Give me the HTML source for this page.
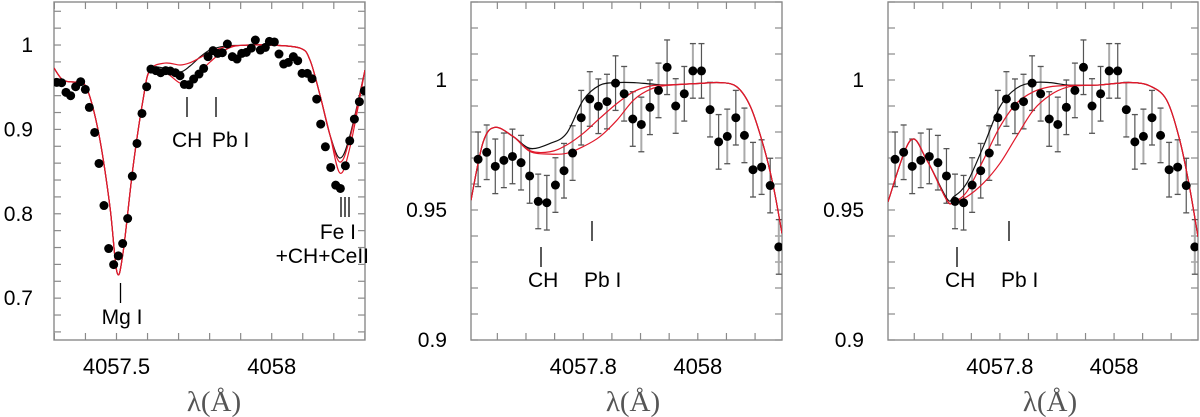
<!DOCTYPE html>
<html><head><meta charset="utf-8"><style>
html,body{margin:0;padding:0;background:#fff;}
svg{display:block;font-family:"Liberation Sans",sans-serif;}
</style></head><body>
<svg id="fig" width="1200" height="417" viewBox="0 0 1200 417" xmlns="http://www.w3.org/2000/svg"></svg>
<script>
// ---------- Panel 1 data ----------
const p1ObsX = [4057.3072,4057.3233,4057.3373,4057.3523,4057.3684,4057.3846,4057.3996,4057.4125,4057.4297,4057.4436,4057.4597,4057.4748,4057.4909,4057.5059,4057.5199,4057.5360,4057.5510,4057.5660,4057.5821,4057.5972,4057.6111,4057.6272,4057.6423,4057.6584,4057.6734,4057.6895,4057.7046,4057.7185,4057.7336,4057.7486,4057.7658,4057.7808,4057.7948,4057.8109,4057.8259,4057.8410,4057.8571,4057.8732,4057.8882,4057.9033,4057.9183,4057.9344,4057.9473,4057.9634,4057.9795,4057.9924,4058.0085,4058.0235,4058.0386,4058.0536,4058.0697,4058.0837,4058.0977,4058.1148,4058.1299,4058.1449,4058.1578,4058.1729,4058.1900,4058.2061,4058.2212,4058.2373,4058.2513,4058.2663,4058.2824,4058.2985];
const p1ObsY = [0.9557,0.9553,0.9439,0.9399,0.9506,0.9565,0.9474,0.9261,0.8964,0.8596,0.8098,0.7588,0.7398,0.7501,0.7647,0.7944,0.8446,0.8833,0.9189,0.9506,0.9715,0.9696,0.9672,0.9696,0.9692,0.9672,0.9636,0.9533,0.9529,0.9597,0.9656,0.9723,0.9862,0.9933,0.9901,0.9909,1.0012,0.9862,0.9834,0.9901,0.9913,0.9964,1.0059,0.9941,0.9972,1.0043,1.0036,0.9893,0.9775,0.9794,0.9862,0.9814,0.9664,0.9664,0.9601,0.9359,0.9063,0.8794,0.8549,0.8339,0.8300,0.8569,0.8865,0.9122,0.9328,0.9458];
const p1ModX = [4057.2987,4057.3276,4057.3663,4057.3889,4057.4146,4057.4468,4057.4791,4057.5016,4057.5209,4057.5532,4057.5854,4057.6079,4057.6562,4057.7046,4057.7368,4057.7690,4057.8012,4057.8496,4057.8979,4057.9945,4058.0911,4058.1233,4058.1555,4058.1878,4058.2200,4058.2522,4058.3005];
const p1ModBlack = [0.9727,0.9585,0.9561,0.9573,0.9383,0.8873,0.8078,0.7307,0.7533,0.8553,0.9348,0.9703,0.9727,0.9680,0.9751,0.9858,0.9941,0.9988,0.9995,1.0,0.9964,0.9822,0.9407,0.8932,0.8660,0.8930,0.9703];
const p1ModRedA = [0.9727,0.9585,0.9561,0.9573,0.9383,0.8873,0.8078,0.7307,0.7533,0.8553,0.9348,0.9703,0.9786,0.9763,0.9790,0.9850,0.9917,0.9976,0.9995,1.0,0.9964,0.9822,0.9407,0.8932,0.8612,0.8900,0.9703];
const p1ModRedB = [0.9727,0.9585,0.9561,0.9573,0.9383,0.8873,0.8078,0.7307,0.7533,0.8553,0.9348,0.9703,0.9680,0.9549,0.9561,0.9680,0.9798,0.9941,0.9995,1.0,0.9964,0.9822,0.9407,0.8932,0.8482,0.8790,0.9703];
const p1YTicks = [0.7,0.8,0.9,1];
const p1XTicks = [4057.5,4058];

// ---------- Panels 2 & 3 observed data (same star) ----------
const zObsX = [4057.6164,4057.6314,4057.6464,4057.6614,4057.6764,4057.6914,4057.7064,4057.7214,4057.7364,4057.7514,4057.7664,4057.7814,4057.7964,4057.8114,4057.8264,4057.8414,4057.8564,4057.8714,4057.8864,4057.9014,4057.9164,4057.9314,4057.9464,4057.9614,4057.9764,4057.9914,4058.0064,4058.0214,4058.0364,4058.0514,4058.0664,4058.0814,4058.0964,4058.1114,4058.1264,4058.1414];
const zObsY = [0.9695,0.9722,0.9668,0.9691,0.9706,0.9682,0.9631,0.9533,0.9528,0.9596,0.9651,0.9719,0.9855,0.9927,0.9899,0.9917,0.9988,0.9947,0.9850,0.9829,0.9895,0.9960,1.0049,0.9900,0.9947,1.0035,1.0035,0.9886,0.9762,0.9783,0.9855,0.9787,0.9655,0.9665,0.9594,0.9358];
const zObsErr = [0.0105,0.0105,0.0105,0.0105,0.0105,0.0105,0.0105,0.0105,0.0105,0.0105,0.0105,0.0105,0.0105,0.0105,0.0105,0.0105,0.0105,0.0105,0.0105,0.0105,0.0105,0.0105,0.0105,0.0105,0.0105,0.0105,0.0105,0.0105,0.0105,0.0105,0.0105,0.0105,0.0105,0.0105,0.0105,0.0105];
const zYTicks = [0.9,0.95,1];
const zXTicks = [4057.8,4058];

// ---------- Panel 2 models ----------
const p2ModX = [4057.604,4057.625,4057.646,4057.678,4057.707,4057.742,4057.771,4057.800,4057.829,4057.859,4057.888,4057.917,4057.946,4058.004,4058.039,4058.068,4058.092,4058.115,4058.132,4058.147];
const p2ModBlack = [0.9538,0.9760,0.9818,0.9782,0.9737,0.9756,0.9795,0.9923,0.9980,0.9990,0.9990,0.9985,0.9981,0.9987,0.9990,0.9974,0.9897,0.9744,0.9590,0.9410];
const p2ModRedA  = [0.9538,0.9760,0.9818,0.9782,0.9728,0.9724,0.9750,0.9795,0.9853,0.9910,0.9955,0.9977,0.9981,0.9987,0.9990,0.9974,0.9897,0.9744,0.9590,0.9410];
const p2ModRedB  = [0.9538,0.9760,0.9818,0.9782,0.9725,0.9715,0.9718,0.9744,0.9782,0.9846,0.9923,0.9964,0.9979,0.9987,0.9990,0.9974,0.9897,0.9744,0.9590,0.9410];

// ---------- Panel 3 models ----------
const p3ModX = [4057.604,4057.643,4057.672,4057.707,4057.719,4057.742,4057.771,4057.800,4057.829,4057.859,4057.888,4057.917,4057.946,4057.975,4058.004,4058.033,4058.063,4058.092,4058.115,4058.132,4058.147];
const p3ModBlack = [0.9532,0.9767,0.9692,0.9545,0.9551,0.9603,0.9744,0.9897,0.9968,0.9990,0.9990,0.9981,0.9980,0.9981,0.9987,0.9990,0.9977,0.9923,0.9769,0.9590,0.9397];
const p3ModRedA  = [0.9532,0.9767,0.9692,0.9538,0.9532,0.9570,0.9692,0.9820,0.9910,0.9955,0.9974,0.9979,0.9980,0.9981,0.9987,0.9990,0.9977,0.9923,0.9769,0.9590,0.9397];
const p3ModRedB  = [0.9532,0.9767,0.9692,0.9538,0.9532,0.9551,0.9603,0.9679,0.9782,0.9885,0.9942,0.9972,0.9979,0.9981,0.9987,0.9990,0.9977,0.9923,0.9769,0.9590,0.9397];

const NS = 'http://www.w3.org/2000/svg';
const svg = document.getElementById('fig');
function mk(tag, attrs, parent){
  const e = document.createElementNS(NS, tag);
  for (const k in attrs) e.setAttribute(k, attrs[k]);
  (parent||svg).appendChild(e);
  return e;
}
function smoothPath(pts){
  let d = 'M' + pts[0][0].toFixed(2) + ',' + pts[0][1].toFixed(2);
  for (let i=0;i<pts.length-1;i++){
    const p0 = pts[i-1]||pts[i], p1 = pts[i], p2 = pts[i+1], p3 = pts[i+2]||p2;
    const c1x = p1[0]+(p2[0]-p0[0])/6, c1y = p1[1]+(p2[1]-p0[1])/6;
    const c2x = p2[0]-(p3[0]-p1[0])/6, c2y = p2[1]-(p3[1]-p1[1])/6;
    d += 'C'+c1x.toFixed(2)+','+c1y.toFixed(2)+' '+c2x.toFixed(2)+','+c2y.toFixed(2)+' '+p2[0].toFixed(2)+','+p2[1].toFixed(2);
  }
  return d;
}

function panel(cfg){
  const g = mk('g', {});
  
  
  const X = v => cfg.x0 + (v - cfg.xmin)/(cfg.xmax - cfg.xmin)*(cfg.x1 - cfg.x0);
  const Y = v => cfg.y1 - (v - cfg.ymin)/(cfg.ymax - cfg.ymin)*(cfg.y1 - cfg.y0);
  const clip = 'clip-' + cfg.name;
  const cp = mk('clipPath', {id: clip}, g);
  mk('rect', {x: cfg.x0, y: cfg.y0, width: cfg.x1-cfg.x0, height: cfg.y1-cfg.y0}, cp);
  const tg = mk('g', {stroke:'#8a8a8a','stroke-width':1.2}, g);
  
  
  const xs = Math.ceil(cfg.xmin/cfg.xminor - 1e-6);
  for (let k=xs; k*cfg.xminor <= cfg.xmax+1e-9; k++){
    const px = X(k*cfg.xminor);
    mk('line', {x1:px,y1:cfg.y1,x2:px,y2:cfg.y1-7}, tg);
    mk('line', {x1:px,y1:cfg.y0,x2:px,y2:cfg.y0+7}, tg);
  }
  const ys = Math.ceil(cfg.ymin/cfg.yminor - 1e-6);
  for (let k=ys; k*cfg.yminor <= cfg.ymax+1e-9; k++){
    const py = Y(k*cfg.yminor);
    mk('line', {x1:cfg.x0,y1:py,x2:cfg.x0+7,y2:py}, tg);
    mk('line', {x1:cfg.x1,y1:py,x2:cfg.x1-7,y2:py}, tg);
  }
  const frame = mk('rect', {x:cfg.x0,y:cfg.y0,width:cfg.x1-cfg.x0,height:cfg.y1-cfg.y0,fill:'none',stroke:'#8a8a8a','stroke-width':1.4}, g);
  
  
  cfg.yTicks.forEach(v=>{
    const t = mk('text', {x: cfg.ylabX, y: Y(v)+7, 'text-anchor':'end','font-size':21,fill:'#000'}, g);
    t.textContent = cfg.yFmt(v);
    
    
  });
  cfg.xTicks.forEach(v=>{
    const t = mk('text', {x: X(v), y: 374, 'text-anchor':'middle','font-size':22,fill:'#000'}, g);
    t.textContent = String(v);
    
    
  });
  const xt = mk('text', {x: cfg.titleX, y: 411, 'text-anchor':'middle','font-size':29,fill:'#555','font-family':'"Liberation Serif",serif'}, g);
  xt.textContent = 'λ(Å)';
  
  
  const dg = mk('g', {'clip-path':'url(#'+clip+')'}, g);
  if (cfg.err){
    const eg = mk('g', {stroke:'#555','stroke-width':1.3}, dg);
    
    
    cfg.obsX.forEach((xv,i)=>{
      const px = X(xv), lo = Y(cfg.obsY[i]-cfg.err[i]), hi = Y(cfg.obsY[i]+cfg.err[i]);
      const bar = mk('line', {x1:px,y1:lo,x2:px,y2:hi, stroke: i%2 ? '#aaa' : '#555', 'stroke-width': i%2 ? 2 : 1.2}, eg);
      
      
      mk('line', {x1:px-3,y1:lo,x2:px+3,y2:lo}, eg);
      mk('line', {x1:px-3,y1:hi,x2:px+3,y2:hi}, eg);
    });
  }
  const models = [[cfg.black,'#111'],[cfg.redB,'#e0182a'],[cfg.redA,'#e0182a']];
  models.forEach((m,j)=>{
    const pts = cfg.modX.map((xv,i)=>[X(xv), Y(m[0][i])]);
    const p = mk('path', {d: smoothPath(pts), fill:'none', stroke:m[1], 'stroke-width':1.2}, dg);
    
    
  });
  cfg.obsX.forEach((xv,i)=>{
    const c = mk('circle', {cx:X(xv), cy:Y(cfg.obsY[i]), r:4.5, fill:'#000'}, dg);
    
    
  });
  cfg.marks.forEach(m=>{
    const l = mk('line', {x1:m.x,y1:m.t0,x2:m.x,y2:m.t1,stroke:'#000','stroke-width':1.3}, g);
    
    
  });
  cfg.labels.forEach(m=>{
    const t = mk('text', {x:m.x, y:m.y, 'font-size':21, fill:'#000', 'text-anchor': m.a||'start'}, g);
    t.textContent = m.t;
    
    
  });
}

panel({name:'panel-mg-region', x0:54,x1:365,y0:2,y1:340, xmin:4057.2987,xmax:4058.3005, ymin:0.6504,ymax:1.0510,
  xminor:0.1, yminor:0.02, xTicks:p1XTicks, yTicks:p1YTicks, yFmt:v=>String(v), ylabX:33, titleX:214,
  obsX:p1ObsX, obsY:p1ObsY, err:null, modX:p1ModX, black:p1ModBlack, redA:p1ModRedA, redB:p1ModRedB,
  marks:[{x:120.5,t0:283,t1:303},{x:187,t0:97,t1:117},{x:216,t0:97,t1:117},{x:341,t0:197,t1:217},{x:345,t0:197,t1:217},{x:349,t0:197,t1:217}],
  labels:[{x:122,y:324,t:'Mg I',a:'middle'},{x:172,y:147,t:'CH'},{x:212,y:147,t:'Pb I'},{x:356,y:239,t:'Fe I',a:'end'},{x:369,y:263,t:'+CH+CeII',a:'end'}]});

panel({name:'panel-pb-fit-a', x0:471,x1:782,y0:2,y1:340, xmin:4057.604,xmax:4058.147, ymin:0.9,ymax:1.03,
  xminor:0.05, yminor:0.01, xTicks:zXTicks, yTicks:zYTicks, yFmt:v=>String(v), ylabX:447, titleX:633,
  obsX:zObsX, obsY:zObsY, err:zObsErr, modX:p2ModX, black:p2ModBlack, redA:p2ModRedA, redB:p2ModRedB,
  marks:[{x:541,t0:247,t1:267},{x:592,t0:221,t1:241}],
  labels:[{x:528,y:287,t:'CH'},{x:584,y:287,t:'Pb I'}]});

panel({name:'panel-pb-fit-b', x0:888,x1:1198,y0:2,y1:340, xmin:4057.604,xmax:4058.147, ymin:0.9,ymax:1.03,
  xminor:0.05, yminor:0.01, xTicks:zXTicks, yTicks:zYTicks, yFmt:v=>String(v), ylabX:864, titleX:1050,
  obsX:zObsX, obsY:zObsY, err:zObsErr, modX:p3ModX, black:p3ModBlack, redA:p3ModRedA, redB:p3ModRedB,
  marks:[{x:957,t0:247,t1:267},{x:1009,t0:221,t1:241}],
  labels:[{x:945,y:287,t:'CH'},{x:1001,y:287,t:'Pb I'}]});
</script>
</body></html>
